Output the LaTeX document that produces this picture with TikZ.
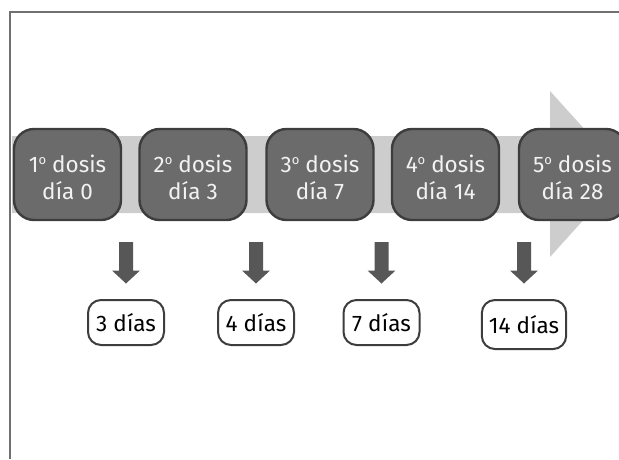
\documentclass[tikz,border=0pt]{standalone}
\usepackage{fontspec}
\setmainfont{Fira Sans}
\definecolor{framecol}{HTML}{707070}
\definecolor{bandcol}{HTML}{CDCDCD}
\definecolor{dosefill}{HTML}{6B6B6B}
\definecolor{doseline}{HTML}{3D3D3D}
\definecolor{arrowcol}{HTML}{575757}
% small raised "o" for the ordinals
\newcommand{\ordo}{\raisebox{8pt}{\fontsize{13}{13}\selectfont o}}
% strut that lowers the two-line labels a little
\newcommand{\topstrut}{\rule{0pt}{22.5pt}}
\tikzset{
  dosebox/.style={draw=doseline, fill=dosefill, line width=2.4pt, rounded corners=20pt,
    minimum width=107pt, minimum height=91pt, align=center, text=white!95!black,
    font=\fontsize{22.5}{27}\selectfont},
  gapbox/.style={draw=doseline, fill=white, line width=2pt, rounded corners=13pt,
    minimum width=76pt, minimum height=45pt, inner xsep=7pt, text=black,
    font=\fontsize{22.5}{27}\selectfont},
  downarrow/.style={fill=arrowcol}
}
\begin{document}
\begin{tikzpicture}[x=1pt,y=-1pt]
\useasboundingbox (0,0) rectangle (619,459);
\clip (0,0) rectangle (619,459);
% frame lines
\draw[framecol, line width=1.2pt] (10,459) -- (10,12) -- (619,12);
% timeline band with its arrow head
\fill[bandcol] (12,136) -- (550,136) -- (550,91) -- (625,174) -- (550,257) -- (550,213) -- (12,213) -- cycle;
% doses
\node[dosebox] (d1) at (67.5,174.5) {\topstrut 1\ordo{} dosis\\día 0};
\node[dosebox] (d2) at (193,174.5) {\topstrut 2\ordo{} dosis\\día 3};
\node[dosebox] (d3) at (320,174.5) {\topstrut 3\ordo{} dosis\\día 7};
\node[dosebox] (d4) at (445.5,174.5) {\topstrut 4\ordo{} dosis\\día 14};
\node[dosebox] (d5) at (572.5,174.5) {\topstrut 5\ordo{} dosis\\día 28};
% intervals
\node[gapbox] (g1) at (126,322.5) {3 días};
\node[gapbox] (g2) at (256,322.5) {4 días};
\node[gapbox] (g3) at (381.5,322.5) {7 días};
\node[gapbox, minimum height=49pt] (g4) at (524,324.5) {14 días};
% block arrows above each interval
\foreach \g in {g1,g2,g3,g4}{
  \begin{scope}[shift={(\g.north)}]
    \fill[downarrow] (-7,-57) -- (7,-57) -- (7,-28.5) -- (14,-28.5) -- (0,-15.5)
      -- (-14,-28.5) -- (-7,-28.5) -- cycle;
  \end{scope}
}
\end{tikzpicture}
\end{document}
